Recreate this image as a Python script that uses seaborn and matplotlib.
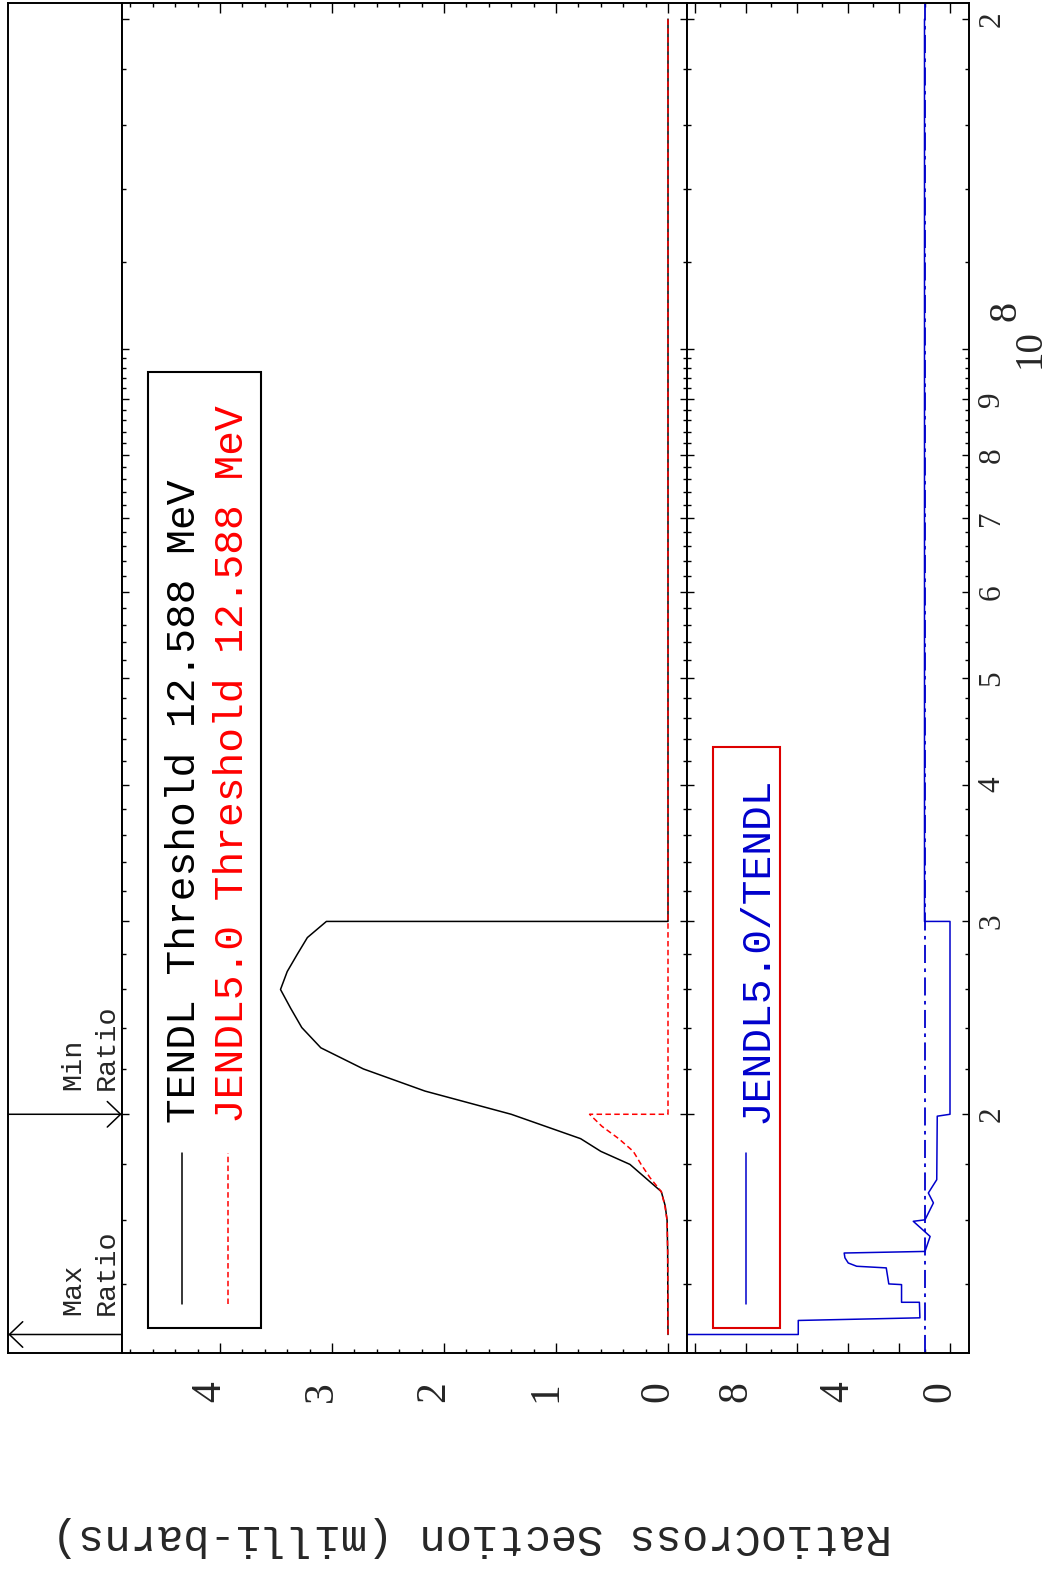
import numpy as np
import pandas as pd
import matplotlib
matplotlib.use("Agg")
import matplotlib.pyplot as plt
import matplotlib.transforms as mtransforms
from matplotlib.patches import Rectangle
import seaborn as sns

# Data (energy in eV, cross section in milli-barns)
threshold_mev = 12.588

tendl_energy = [1.2588e7, 1.3e7, 1.4e7, 1.5e7, 1.6e7, 1.65e7, 1.7e7, 1.8e7, 1.85e7, 1.9e7,
                2.0e7, 2.1e7, 2.2e7, 2.3e7, 2.4e7, 2.5e7, 2.6e7, 2.7e7, 2.8e7, 2.9e7,
                3.0e7, 3.0e7, 2.0e8]
tendl_xs = [0.0, 0.001, 0.002, 0.003, 0.008, 0.025, 0.06, 0.34, 0.60, 0.78,
            1.40, 2.17, 2.72, 3.10, 3.27, 3.37, 3.46, 3.40, 3.31, 3.22,
            3.05, 0.0, 0.0]

jendl_energy = [1.2588e7, 1.4e7, 1.5e7, 1.6e7, 1.65e7, 1.7e7, 1.75e7, 1.8e7, 1.85e7,
                1.9e7, 1.95e7, 2.0e7, 2.0e7, 2.0e8]
jendl_xs = [0.0, 0.001, 0.003, 0.008, 0.028, 0.06, 0.16, 0.24, 0.31,
            0.44, 0.59, 0.70, 0.0, 0.0]

ratio_energy = [1.2588e7, 1.2588e7, 1.2965e7, 1.3037e7, 1.347e7, 1.347e7, 1.398e7, 1.40e7,
                1.448e7, 1.453e7, 1.463e7, 1.479e7, 1.494e7, 1.499e7, 1.547e7, 1.597e7,
                1.602e7, 1.66e7, 1.695e7, 1.743e7, 1.992e7, 2.0e7, 3.0e7, 3.0e7, 2.0e8]
ratio_vals = [12.0, 5.95, 5.95, 1.18, 1.20, 1.90, 1.90, 2.40,
              2.50, 3.66, 3.99, 4.12, 4.15, 0.98, 0.78, 1.44,
              0.98, 0.65, 0.85, 0.52, 0.50, 0.0, 0.0, 1.0, 1.0]
ratio_ref = 1.0

max_ratio_energy = 1.2588e7
min_ratio_energy = 2.0e7

xs_ticks = [0, 1, 2, 3, 4]
ratio_ticks = [0, 4, 8]
energy_ticks = [2e7, 3e7, 4e7, 5e7, 6e7, 7e7, 8e7, 9e7, 2e8]
energy_tick_labels = ["2", "3", "4", "5", "6", "7", "8", "9", "2"]

BLUE = "#0000cc"
RED = "#ff0000"

sns.set_theme(style="ticks")
plt.rcParams["font.family"] = ["Liberation Mono", "DejaVu Sans"]
plt.rcParams["axes.linewidth"] = 1.4

W, H = 1048, 1573
fig = plt.figure(figsize=(W / 100, H / 100), dpi=100)

Y_TOP, Y_BOT = 2.7, 1353.3


def box(x0, x1):
    return [x0 / W, 1 - Y_BOT / H, (x1 - x0) / W, (Y_BOT - Y_TOP) / H]


ax_s = fig.add_axes(box(8.3, 121.7))
ax = fig.add_axes(box(121.7, 686.7))
ax_r = fig.add_axes(box(686.7, 969))

E_LO, E_HI = 1.21e7, 2.07e8
for a in (ax_s, ax, ax_r):
    a.set_yscale("log")
    a.set_ylim(E_LO, E_HI)
    a.set_facecolor("white")
    for sp in a.spines.values():
        sp.set_color("black")
        sp.set_linewidth(1.4)

# Cross sections
df_t = pd.DataFrame({"energy": tendl_energy, "xs": tendl_xs})
df_j = pd.DataFrame({"energy": jendl_energy, "xs": jendl_xs})
sns.lineplot(data=df_t, x="xs", y="energy", orient="y", sort=False, estimator=None,
             color="black", lw=1.1, ax=ax)
sns.lineplot(data=df_j, x="xs", y="energy", orient="y", sort=False, estimator=None,
             color=RED, lw=1.1, linestyle=(0, (3.6, 2.2)), ax=ax)
ax.set_xlim(4.878, -0.167)

# Ratio
df_r = pd.DataFrame({"energy": ratio_energy, "ratio": ratio_vals})
ax_r.axvline(ratio_ref, color=BLUE, lw=1.3, linestyle=(0, (10, 3, 2, 3)))
sns.lineplot(data=df_r, x="ratio", y="energy", orient="y", sort=False, estimator=None,
             color=BLUE, lw=1.1, ax=ax_r)
ax_r.set_xlim(10.325, -0.745)

# Energy ticks
minor_E = [k * 2e6 for k in range(7, 50) if k % 5 != 0] + [1.2e8, 1.4e8, 1.6e8, 1.8e8]
for a in (ax, ax_r):
    a.set_yticks(energy_ticks + [1e8])
    a.set_yticks(minor_E, minor=True)
    a.yaxis.set_minor_formatter(matplotlib.ticker.NullFormatter())
    a.tick_params(axis="y", which="both", left=True, right=True, direction="in",
                  labelleft=False, labelright=False, color="black")
    a.tick_params(axis="y", which="major", length=5.0, width=1.0)
    a.tick_params(axis="y", which="minor", length=2.9, width=1.0)
    a.set_xlabel("")
    a.set_ylabel("")

ax.set_xticks(xs_ticks)
ax.set_xticks(np.arange(0, 4.81, 0.2), minor=True)
ax_r.set_xticks(np.arange(0, 10.1, 2))
ax_r.set_xticks(np.arange(1, 10, 2), minor=True)
for a in (ax, ax_r):
    a.tick_params(axis="x", which="both", bottom=True, top=True, direction="in",
                  labelbottom=False, color="black")
    a.tick_params(axis="x", which="major", length=7.2, width=1.0)
    a.tick_params(axis="x", which="minor", length=3.0, width=1.0)

# tick labels, rotated like the reference
tb = mtransforms.blended_transform_factory(ax.transData, ax.transAxes)
for v in xs_ticks:
    ax.text(v, -0.0284, str(v), transform=tb, rotation=90, rotation_mode="anchor",
            ha="center", va="baseline", fontsize=30, family="Liberation Serif")
tbr = mtransforms.blended_transform_factory(ax_r.transData, ax_r.transAxes)
for v in ratio_ticks:
    ax_r.text(v, -0.0284, str(v), transform=tbr, rotation=90, rotation_mode="anchor",
              ha="center", va="baseline", fontsize=30, family="Liberation Serif")

te = mtransforms.blended_transform_factory(ax_r.transAxes, ax_r.transData)
for e, lab in zip(energy_ticks, energy_tick_labels):
    ax_r.text(1.1073, e, lab, transform=te, rotation=90, rotation_mode="anchor",
              ha="center", va="baseline", fontsize=22.5, family="Liberation Serif",
              clip_on=False)
ax_r.text(1.2515, 1e8, "10", transform=te, rotation=90, rotation_mode="anchor",
          ha="center", va="baseline", fontsize=28, family="Liberation Serif")
ax_r.text(1.163, 1e8, "8",
          transform=te + mtransforms.ScaledTranslation(0, 0.38, fig.dpi_scale_trans),
          rotation=90, rotation_mode="anchor", ha="center", va="baseline",
          fontsize=29, family="Liberation Serif")

# Max / Min ratio strip
ax_s.set_xlim(0, 1)
ax_s.tick_params(which="both", left=False, right=False, bottom=False, top=False,
                 labelleft=False, labelbottom=False)
ax_s.yaxis.set_minor_locator(matplotlib.ticker.NullLocator())
ax_s.yaxis.set_major_locator(matplotlib.ticker.NullLocator())
ax_s.set_xticks([])
arrow = dict(arrowstyle="->,head_length=0.48,head_width=0.46", mutation_scale=20,
             lw=1.1, color="black", shrinkA=0, shrinkB=0)
ax_s.annotate("", xy=(0, max_ratio_energy), xytext=(1, max_ratio_energy),
              arrowprops=arrow, annotation_clip=False)
ax_s.annotate("", xy=(1, min_ratio_energy), xytext=(0, min_ratio_energy),
              arrowprops=arrow, annotation_clip=False)
for txt, x, y in [("Max", 0.632, 0.0284), ("Ratio", 0.926, 0.0284),
                  ("Min", 0.632, 0.1946), ("Ratio", 0.926, 0.1946)]:
    ax_s.text(x, y, txt, transform=ax_s.transAxes, rotation=90, rotation_mode="anchor",
              ha="left", va="baseline", fontsize=20.5)

# Legends
ax.add_patch(Rectangle((0.0471, 0.0185), 0.1994, 0.7081, transform=ax.transAxes,
                       fill=False, ec="black", lw=1.5, zorder=5))
ax.plot([0.1062, 0.1062], [0.0365, 0.1485], transform=ax.transAxes, color="black", lw=1.1)
ax.plot([0.1887, 0.1887], [0.0365, 0.1485], transform=ax.transAxes, color=RED, lw=1.1,
        linestyle=(0, (3.6, 2.2)))
ax.text(0.1297, 0.1705, f"TENDL Threshold {threshold_mev} MeV", transform=ax.transAxes,
        rotation=90, rotation_mode="anchor", ha="left", va="baseline", fontsize=29.7,
        color="black")
ax.text(0.2142, 0.1705, f"JENDL5.0 Threshold {threshold_mev} MeV", transform=ax.transAxes,
        rotation=90, rotation_mode="anchor", ha="left", va="baseline", fontsize=29.7,
        color=RED)

ax_r.add_patch(Rectangle((0.0921, 0.0185), 0.2384, 0.4304, transform=ax_r.transAxes,
                         fill=False, ec="#dd0000", lw=1.5, zorder=5))
ax_r.plot([0.2101, 0.2101], [0.0365, 0.1485], transform=ax_r.transAxes, color=BLUE, lw=1.1)
ax_r.text(0.2866, 0.1705, "JENDL5.0/TENDL", transform=ax_r.transAxes,
          rotation=90, rotation_mode="anchor", ha="left", va="baseline", fontsize=29.7,
          color=BLUE)

if ax.get_legend():
    ax.get_legend().remove()

fig.text(472 / W, 1 - 1536 / H, "RatioCross Section (milli-barns)", rotation=180,
         ha="center", va="center", fontsize=31.5)

fig.savefig("out.png", dpi=100, facecolor="white")
